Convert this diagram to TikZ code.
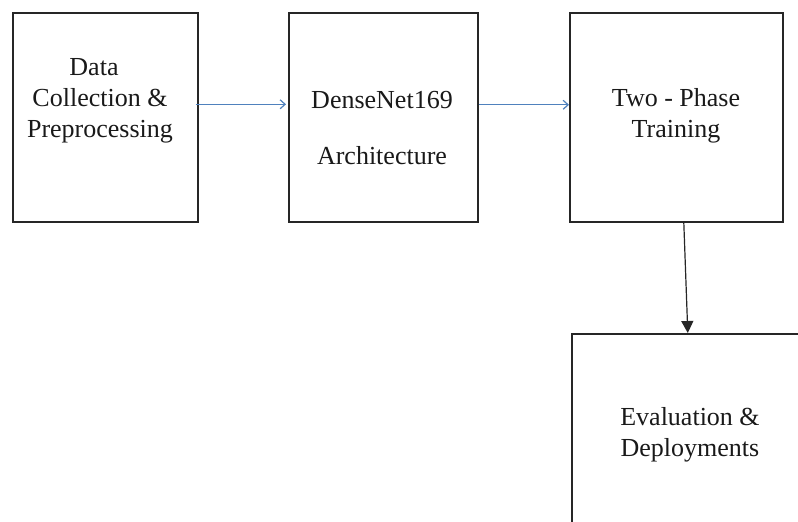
\documentclass[tikz,border=0pt]{standalone}
\usepackage{fontspec}
\setmainfont{Liberation Serif}
\usetikzlibrary{arrows.meta}
\definecolor{arrowblue}{HTML}{4F81BD}
\begin{document}
\begin{tikzpicture}[x=1pt,y=-1pt,
  box/.style={draw=black!85,line width=1.6pt,anchor=north west,inner sep=0pt},
  txt/.style={align=center,font=\fontsize{26}{31}\selectfont,inner sep=0pt,text=black!90},
  bluearrow/.style={draw=arrowblue,line width=1.2pt,-{Straight Barb[length=5pt,width=9pt]}},
  blackarrow/.style={draw=black!85,line width=1.2pt,-{Triangle[length=12pt,width=12pt]}}]
\useasboundingbox (0,0) rectangle (798,522);
\node[box,minimum width=185pt,minimum height=209pt] (b1) at (12,12) {};
\node[box,minimum width=189pt,minimum height=209pt] (b2) at (288,12) {};
\node[box,minimum width=213pt,minimum height=209pt] (b3) at (569,12) {};
\node[box,minimum width=240pt,minimum height=210pt] (b4) at (571,333) {};
\node[txt] (t1) at (100,101) {Data\hspace*{12pt}\\Collection \&\hspace*{4pt}\\Preprocessing};
\node[txt] (t2) at (382,128) {DenseNet169\\[25pt]Architecture};
\node[txt] (t3) at (676,116) {Two - Phase\\Training};
\node[txt] (t4) at (690,435) {Evaluation \&\\Deployments};
\draw[bluearrow] ([xshift=-3pt,yshift=13pt]b1.east) -- ([xshift=-2pt,yshift=13pt]b2.west);
\draw[bluearrow] ([yshift=12.5pt]b2.east) -- ([yshift=12.5pt]b3.west);
\draw[blackarrow] ([xshift=7.5pt]b3.south) -- ([xshift=-4pt]b4.north);
\end{tikzpicture}
\end{document}
